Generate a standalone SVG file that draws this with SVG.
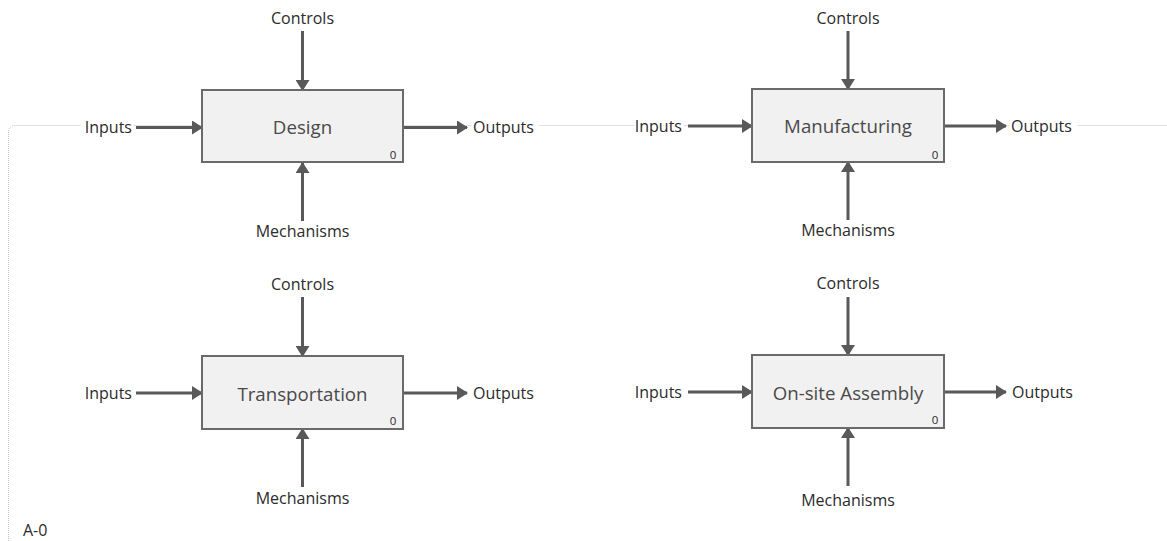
<svg xmlns="http://www.w3.org/2000/svg" width="1167" height="541" viewBox="0 0 1167 541">
<style>
.frame{fill:none;stroke:#c4c4c4;stroke-width:1;stroke-dasharray:1 1}
.box{fill:#f1f1f1;stroke:#6a6a6a;stroke-width:2}
.title{font-family:"Open Sans","Liberation Sans",sans-serif;font-size:18.7px;fill:#4a4a4a;text-anchor:middle}
.lbl{font-family:"Open Sans","Liberation Sans",sans-serif;font-size:16px;fill:#2b2b2b}
.mid{text-anchor:middle}
.end{text-anchor:end}
.num{font-family:"Open Sans","Liberation Sans",sans-serif;font-size:11.5px;fill:#2b2b2b;text-anchor:middle}
.bg{fill:#fff}
.arr{stroke:#595959;stroke-width:3;fill:none;marker-end:url(#ah)}
</style>
<defs>
<marker id="ah" viewBox="0 0 11 14" refX="10" refY="7" markerWidth="11" markerHeight="14" markerUnits="userSpaceOnUse" orient="auto">
<path d="M0,0 L11,7 L0,14 z" fill="#595959"/>
</marker>
</defs>
<rect width="1167" height="541" fill="#fff"/>
<rect class="frame" x="8.5" y="125.5" width="1200" height="500" rx="6"/>
<text class="lbl" x="23" y="536" font-size="14">A-0</text>

<g id="connectors">
<line class="arr" x1="302.5" y1="31" x2="302.5" y2="90"/>
<line class="arr" x1="136" y1="127.5" x2="202" y2="127.5"/>
<line class="arr" x1="403" y1="127.5" x2="467" y2="127.5"/>
<line class="arr" x1="302.5" y1="221" x2="302.5" y2="163"/>

<line class="arr" x1="848" y1="31" x2="848" y2="89"/>
<line class="arr" x1="688" y1="126" x2="752" y2="126"/>
<line class="arr" x1="944" y1="126" x2="1006" y2="126"/>
<line class="arr" x1="848" y1="220" x2="848" y2="162"/>

<line class="arr" x1="302.5" y1="297" x2="302.5" y2="356"/>
<line class="arr" x1="136" y1="393" x2="202" y2="393"/>
<line class="arr" x1="403" y1="393" x2="467" y2="393"/>
<line class="arr" x1="302.5" y1="487" x2="302.5" y2="429"/>

<line class="arr" x1="848" y1="297" x2="848" y2="355"/>
<line class="arr" x1="688" y1="392" x2="752" y2="392"/>
<line class="arr" x1="944" y1="392" x2="1006" y2="392"/>
<line class="arr" x1="848" y1="486" x2="848" y2="428"/>
</g>

<g id="design">
<rect class="box" x="202" y="90" width="201" height="72"/>
<text class="title" x="302.5" y="134">Design</text>
<text class="num" x="393" y="159">0</text>
<text class="lbl mid" x="302.5" y="24">Controls</text>
<rect class="bg" x="81" y="117" width="52" height="20"/>
<text class="lbl end" x="132" y="133">Inputs</text>
<rect class="bg" x="471" y="117" width="68" height="20"/>
<text class="lbl" x="473" y="133">Outputs</text>
<text class="lbl mid" x="302.5" y="237">Mechanisms</text>
</g>

<g id="manufacturing">
<rect class="box" x="752" y="89" width="192" height="73"/>
<text class="title" x="848" y="133">Manufacturing</text>
<text class="num" x="935" y="158.5">0</text>
<text class="lbl mid" x="848" y="24">Controls</text>
<rect class="bg" x="635" y="116" width="49" height="20"/>
<text class="lbl end" x="682" y="131.5">Inputs</text>
<rect class="bg" x="1009" y="116" width="68" height="20"/>
<text class="lbl" x="1011" y="131.5">Outputs</text>
<text class="lbl mid" x="848" y="236">Mechanisms</text>
</g>

<g id="transportation">
<rect class="box" x="202" y="356" width="201" height="73"/>
<text class="title" x="302.5" y="401">Transportation</text>
<text class="num" x="393" y="425">0</text>
<text class="lbl mid" x="302.5" y="290">Controls</text>
<text class="lbl end" x="132" y="399">Inputs</text>
<text class="lbl" x="473" y="399">Outputs</text>
<text class="lbl mid" x="302.5" y="504">Mechanisms</text>
</g>

<g id="onsite-assembly">
<rect class="box" x="752" y="355" width="192" height="73"/>
<text class="title" x="848" y="400">On-site Assembly</text>
<text class="num" x="935" y="424">0</text>
<text class="lbl mid" x="848" y="289">Controls</text>
<text class="lbl end" x="682" y="397.5">Inputs</text>
<text class="lbl" x="1012" y="397.5">Outputs</text>
<text class="lbl mid" x="848" y="506">Mechanisms</text>
</g>
</svg>
